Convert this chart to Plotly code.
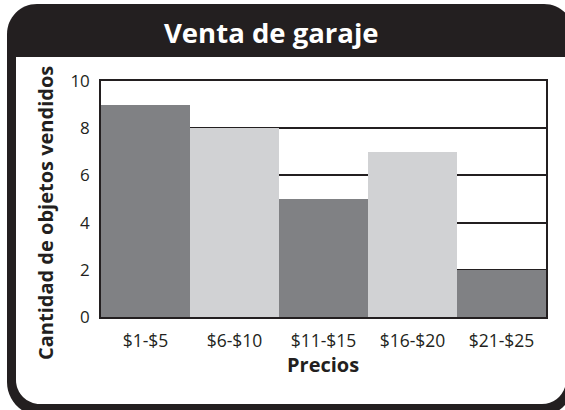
import plotly.graph_objects as go

# Garage sale: number of items sold per price range
categories = ["$1-$5", "$6-$10", "$11-$15", "$16-$20", "$21-$25"]
items_sold = [9, 8, 5, 7, 2]
y_ticks = [0, 2, 4, 6, 8, 10]

DARK = "#808184"
LIGHT = "#d1d2d4"
INK = "#231f20"
bar_colors = [DARK, LIGHT, DARK, LIGHT, DARK]

W, H = 565, 410
FONT = "Open Sans"


def px(x):
    return x / W


def py(y):
    return 1 - y / H


def rounded_rect(x0, y0, x1, y1, tl, tr, br, bl):
    """SVG path (paper coords) for a rectangle given in pixels with per-corner radii."""
    k = 0.5523
    p = []
    p.append(f"M {px(x0 + tl)},{py(y0)}")
    p.append(f"L {px(x1 - tr)},{py(y0)}")
    if tr:
        p.append(f"C {px(x1 - tr + k * tr)},{py(y0)} {px(x1)},{py(y0 + tr - k * tr)} {px(x1)},{py(y0 + tr)}")
    p.append(f"L {px(x1)},{py(y1 - br)}")
    if br:
        p.append(f"C {px(x1)},{py(y1 - br + k * br)} {px(x1 - br + k * br)},{py(y1)} {px(x1 - br)},{py(y1)}")
    p.append(f"L {px(x0 + bl)},{py(y1)}")
    if bl:
        p.append(f"C {px(x0 + bl - k * bl)},{py(y1)} {px(x0)},{py(y1 - bl + k * bl)} {px(x0)},{py(y1 - bl)}")
    p.append(f"L {px(x0)},{py(y0 + tl)}")
    if tl:
        p.append(f"C {px(x0)},{py(y0 + tl - k * tl)} {px(x0 + tl - k * tl)},{py(y0)} {px(x0 + tl)},{py(y0)}")
    p.append("Z")
    return " ".join(p)


fig = go.Figure(
    go.Bar(
        x=categories,
        y=items_sold,
        marker=dict(color=bar_colors, line=dict(width=0)),
        hoverinfo="x+y",
    )
)

# Plot area in pixels
PL, PR, PT, PB = 101, 546, 81, 317

fig.update_layout(
    width=W,
    height=H,
    margin=dict(l=0, r=0, t=0, b=0),
    paper_bgcolor="white",
    plot_bgcolor="white",
    showlegend=False,
    bargap=0,
    font=dict(family=FONT, color=INK),
    xaxis=dict(
        domain=[px(PL), px(PR)],
        showline=True,
        mirror=True,
        linecolor=INK,
        linewidth=1.5,
        showgrid=False,
        ticks="",
        tickfont=dict(size=17.5, color=INK, family=FONT),
        ticklabelstandoff=7,
        automargin=False,
        fixedrange=True,
    ),
    yaxis=dict(
        domain=[py(PB), py(PT)],
        range=[0, 10],
        tickvals=y_ticks,
        showline=True,
        mirror=True,
        linecolor=INK,
        linewidth=1.5,
        showgrid=True,
        gridcolor=INK,
        gridwidth=1.5,
        zeroline=False,
        ticks="",
        tickfont=dict(size=17, color=INK, family=FONT),
        ticklabelstandoff=6,
        automargin=False,
        fixedrange=True,
    ),
    shapes=[
        # black rounded frame with the title band
        dict(
            type="path",
            xref="paper",
            yref="paper",
            path=rounded_rect(7, 4, 574, 416, 30, 30, 34, 34),
            fillcolor=INK,
            line=dict(width=0),
            layer="below",
        ),
        # white panel holding the chart
        dict(
            type="path",
            xref="paper",
            yref="paper",
            path=rounded_rect(16, 57, 566, 404, 0, 0, 24, 24),
            fillcolor="white",
            line=dict(width=0),
            layer="below",
        ),
    ],
    annotations=[
        dict(
            text="<b>Venta de garaje</b>",
            x=px(271),
            y=py(33),
            xref="paper",
            yref="paper",
            xanchor="center",
            yanchor="middle",
            showarrow=False,
            font=dict(size=27.5, color="white", family=FONT),
        ),
        dict(
            text="<b>Cantidad de objetos vendidos</b>",
            x=px(45),
            y=py(213),
            xref="paper",
            yref="paper",
            xanchor="center",
            yanchor="middle",
            textangle=-90,
            showarrow=False,
            font=dict(size=20, color=INK, family=FONT),
        ),
        dict(
            text="<b>Precios</b>",
            x=px(323),
            y=py(364),
            xref="paper",
            yref="paper",
            xanchor="center",
            yanchor="middle",
            showarrow=False,
            font=dict(size=20, color=INK, family=FONT),
        ),
    ],
)

fig.write_html("out.html", config={"displayModeBar": False})
